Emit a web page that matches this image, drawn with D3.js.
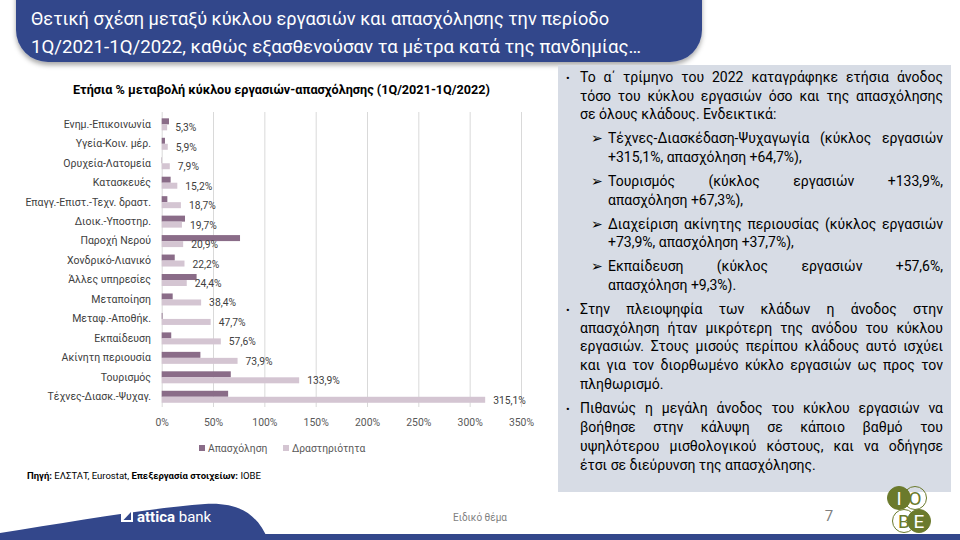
<!DOCTYPE html>
<html>
<head>
<meta charset="utf-8">
<script src="https://cdn.jsdelivr.net/npm/d3@7"></script>
<style>
  html, body { margin: 0; padding: 0; background: #fff; }
  svg { display: block; }
  text { font-family: Roboto, "Noto Sans", sans-serif; }
</style>
</head>
<body>
<svg id="chart" width="960" height="540"></svg>
<script>
// ---------------- DATA ----------------
const categories = ["Ενημ.-Επικοινωνία","Υγεία-Κοιν. μέρ.","Ορυχεία-Λατομεία","Κατασκευές","Επαγγ.-Επιστ.-Τεχν. δραστ.","Διοικ.-Υποστηρ.","Παροχή Νερού","Χονδρικό-Λιανικό","Άλλες υπηρεσίες","Μεταποίηση","Μεταφ.-Αποθήκ.","Εκπαίδευση","Ακίνητη περιουσία","Τουρισμός","Τέχνες-Διασκ.-Ψυχαγ."];
const employment = [7.1, 3.2, 0.3, 8.7, 5.5, 22.7, 76.3, 12.7, 34.0, 10.7, 0.8, 9.3, 37.7, 67.3, 64.7];
const activity = [5.3, 5.9, 7.9, 15.2, 18.7, 19.7, 20.9, 22.2, 24.4, 38.4, 47.7, 57.6, 73.9, 133.9, 315.1];
const seriesNames = ["Απασχόληση", "Δραστηριότητα"];
const xTicks = [0, 50, 100, 150, 200, 250, 300, 350];

const headerLines = ["Θετική σχέση μεταξύ κύκλου εργασιών και απασχόλησης την περίοδο",
                     "1Q/2021-1Q/2022, καθώς εξασθενούσαν τα μέτρα κατά της πανδημίας…"];
const chartTitle = "Ετήσια % μεταβολή κύκλου εργασιών-απασχόλησης (1Q/2021-1Q/2022)";

// panel paragraphs: level 1 = bullet, level 2 = arrow sub-bullet
const panelLines = [
  {lvl:1, first:true,  just:true,  t:"Το α΄ τρίμηνο του 2022 καταγράφηκε ετήσια άνοδος"},
  {lvl:1, first:false, just:true,  t:"τόσο του κύκλου εργασιών όσο και της απασχόλησης"},
  {lvl:1, first:false, just:false, t:"σε όλους κλάδους. Ενδεικτικά:"},
  {lvl:2, first:true,  just:true,  t:"Τέχνες-Διασκέδαση-Ψυχαγωγία (κύκλος εργασιών"},
  {lvl:2, first:false, just:false, t:"+315,1%, απασχόληση +64,7%),"},
  {lvl:2, first:true,  just:true,  t:"Τουρισμός (κύκλος εργασιών +133,9%,"},
  {lvl:2, first:false, just:false, t:"απασχόληση +67,3%),"},
  {lvl:2, first:true,  just:true,  t:"Διαχείριση ακίνητης περιουσίας (κύκλος εργασιών"},
  {lvl:2, first:false, just:false, t:"+73,9%, απασχόληση +37,7%),"},
  {lvl:2, first:true,  just:true,  t:"Εκπαίδευση (κύκλος εργασιών +57,6%,"},
  {lvl:2, first:false, just:false, t:"απασχόληση +9,3%)."},
  {lvl:1, first:true,  just:true,  t:"Στην πλειοψηφία των κλάδων η άνοδος στην"},
  {lvl:1, first:false, just:true,  t:"απασχόληση ήταν μικρότερη της ανόδου του κύκλου"},
  {lvl:1, first:false, just:true,  t:"εργασιών. Στους μισούς περίπου κλάδους αυτό ισχύει"},
  {lvl:1, first:false, just:true,  t:"και για τον διορθωμένο κύκλο εργασιών ως προς τον"},
  {lvl:1, first:false, just:false, t:"πληθωρισμό."},
  {lvl:1, first:true,  just:true,  t:"Πιθανώς η μεγάλη άνοδος του κύκλου εργασιών να"},
  {lvl:1, first:false, just:true,  t:"βοήθησε στην κάλυψη σε κάποιο βαθμό του"},
  {lvl:1, first:false, just:true,  t:"υψηλότερου μισθολογικού κόστους, και να οδήγησε"},
  {lvl:1, first:false, just:false, t:"έτσι σε διεύρυνση της απασχόλησης."}
];

// ---------------- STYLE ----------------
const BLUE = "#33478b";
const DARK = "#8a6c88";
const LIGHT = "#d4c5d2";
const TXT = "#404040";

const svg = d3.select("#chart");
const defs = svg.append("defs");
const f = defs.append("filter").attr("id","sh").attr("x","-5%").attr("y","-20%").attr("width","110%").attr("height","150%");
f.append("feDropShadow").attr("dx",0).attr("dy",3).attr("stdDeviation",2.5).attr("flood-color","#000").attr("flood-opacity",0.35);

// ---------------- HEADER ----------------
svg.append("rect").attr("x",16).attr("y",-40).attr("width",686).attr("height",102).attr("rx",32)
  .attr("fill",BLUE).attr("filter","url(#sh)");
const hWidths = [578, 610];
headerLines.forEach((t,i) => {
  svg.append("text").attr("x",31).attr("y",25 + i*28).attr("fill","#fff")
    .attr("font-size",18).attr("textLength",hWidths[i]).attr("lengthAdjust","spacingAndGlyphs").text(t);
});

// ---------------- CHART ----------------
const x = d3.scaleLinear().domain([0,350]).range([161.7, 521]);
const y = d3.scaleBand().domain(categories).range([114.6, 406.5]).paddingInner(0.36).paddingOuter(0.18);
const barH = 6;

svg.append("text").attr("x",281.5).attr("y",94).attr("text-anchor","middle")
  .attr("font-size",12).attr("font-weight","bold").attr("fill","#000")
  .attr("textLength",417).attr("lengthAdjust","spacingAndGlyphs").text(chartTitle);

// gridlines
const grid = svg.append("g").attr("transform","translate(0,112)")
  .call(d3.axisBottom(x).tickValues(xTicks).tickSize(295).tickFormat(""));
grid.select(".domain").remove();
grid.selectAll("line").attr("stroke","#d9d9d9").attr("stroke-width",1);

// x tick labels
const xa = svg.append("g").attr("transform","translate(0,419)")
  .call(d3.axisBottom(x).tickValues(xTicks).tickSize(0).tickPadding(0).tickFormat(d => d + "%"));
xa.select(".domain").remove();
xa.selectAll("text").attr("font-size",10.4).attr("fill","#595959").attr("font-family","Roboto, sans-serif");

// category labels
const ya = svg.append("g").attr("transform","translate(151,0)")
  .call(d3.axisLeft(y).tickSize(0).tickPadding(0));
ya.select(".domain").remove();
ya.selectAll("text").attr("font-size",10.5).attr("fill",TXT).attr("font-family","Roboto, sans-serif");

const rows = categories.map((c,i) => ({c, emp: employment[i], act: activity[i]}));
const cy = d => y(d.c) + y.bandwidth()/2;

svg.append("g").selectAll("rect").data(rows).join("rect")
  .attr("x", x(0)).attr("y", d => cy(d) - barH)
  .attr("width", d => x(d.emp) - x(0)).attr("height", barH).attr("fill", DARK);
svg.append("g").selectAll("rect").data(rows).join("rect")
  .attr("x", x(0)).attr("y", d => cy(d))
  .attr("width", d => x(d.act) - x(0)).attr("height", barH).attr("fill", LIGHT);
svg.append("g").selectAll("text").data(rows).join("text")
  .attr("x", d => x(d.act) + 8).attr("y", d => cy(d) + barH/2 + 4)
  .attr("font-size",10.3).attr("fill",TXT)
  .text(d => d3.format(".1f")(d.act).replace(".", ",") + "%");

// legend
const leg = svg.append("g");
[[199, 0],[283, 1]].forEach(([lx, i]) => {
  leg.append("rect").attr("x",lx).attr("y",445).attr("width",6).attr("height",6).attr("fill", i===0?DARK:LIGHT);
  leg.append("text").attr("x",lx+9).attr("y",452).attr("font-size",10.3).attr("fill","#595959").text(seriesNames[i]);
});

// source
const src = svg.append("text").attr("x",27).attr("y",479).attr("font-size",9.5).attr("fill","#000");
src.append("tspan").attr("font-weight","bold").text("Πηγή: ");
src.append("tspan").text("ΕΛΣΤΑΤ, Eurostat, ");
src.append("tspan").attr("font-weight","bold").text("Επεξεργασία στοιχείων: ");
src.append("tspan").text("ΙΟΒΕ");

// ---------------- PANEL ----------------
svg.append("rect").attr("x",558).attr("y",65).attr("width",393).attr("height",427).attr("fill","#d7dce5");
const panelY = [82, 101, 119, 143, 162, 186, 205, 229, 247, 271, 290, 314, 333, 351, 370, 389, 413, 432, 451, 470];
const RIGHT = 943;
const pg = svg.append("g").attr("font-size",14).attr("fill","#000");
const measure = pg.append("text").attr("x",-1000).attr("y",-1000);
const w = s => { measure.text(s); return measure.node().getComputedTextLength(); };
panelLines.forEach((L, i) => {
  const yy = panelY[i];
  const x0 = L.lvl === 1 ? 580 : 608;
  if (L.first) {
    if (L.lvl === 1) pg.append("text").attr("x",566).attr("y",yy).attr("font-size",11).text("•");
    else pg.append("text").attr("x",591).attr("y",yy).attr("font-size",13.5).attr("font-family","DejaVu Sans").text("➢");
  }
  if (L.just) {
    const words = L.t.split(" ");
    const ws = words.map(w);
    const total = d3.sum(ws);
    const gap = (RIGHT - x0 - total) / (words.length - 1);
    let cx = x0;
    words.forEach((wd, k) => {
      pg.append("text").attr("x", cx).attr("y", yy).text(wd);
      cx += ws[k] + gap;
    });
  } else {
    pg.append("text").attr("x", x0).attr("y", yy).text(L.t);
  }
});
measure.remove();

// ---------------- FOOTER ----------------
svg.append("path").attr("d","M0,533 C70,522 150,508 205,504 C240,502 258,515 268,540 L0,540 Z").attr("fill",BLUE);
svg.append("rect").attr("x",0).attr("y",534).attr("width",960).attr("height",6).attr("fill",BLUE);
// attica logo
svg.append("rect").attr("x",121).attr("y",510).attr("width",12).attr("height",12).attr("fill","#fff");
svg.append("path").attr("d","M123.5,520 L131,512 L131,520 Z").attr("fill",BLUE);
const at = svg.append("text").attr("x",137).attr("y",521.5).attr("fill","#fff").attr("font-size",15).attr("font-family","Liberation Sans, Arial, sans-serif");
at.append("tspan").attr("font-weight","bold").text("attica");
at.append("tspan").text(" bank");

svg.append("text").attr("x",480).attr("y",521).attr("text-anchor","middle").attr("font-size",10).attr("fill","#7f7f7f").text("Ειδικό θέμα");
svg.append("text").attr("x",829).attr("y",521).attr("text-anchor","middle").attr("font-size",15).attr("fill","#7f7f7f").text("7");

// IOBE logo
const OL = "#6b7a2c";
const logo = [
  {cx:899, cy:498, fill:true,  l:"I"},
  {cx:915, cy:498, fill:false, l:"O"},
  {cx:904, cy:521, fill:false, l:"B"},
  {cx:919, cy:521, fill:true,  l:"E"}
];
logo.forEach(c => {
  svg.append("circle").attr("cx",c.cx).attr("cy",c.cy).attr("r",11.5)
    .attr("fill", c.fill ? OL : "none").attr("stroke", OL).attr("stroke-width",1);
  svg.append("text").attr("x",c.cx).attr("y",c.cy+6.5).attr("text-anchor","middle")
    .attr("font-family","Liberation Serif, serif").attr("font-size",19)
    .attr("fill", c.fill ? "#fff" : OL).text(c.l);
});
</script>
</body>
</html>
